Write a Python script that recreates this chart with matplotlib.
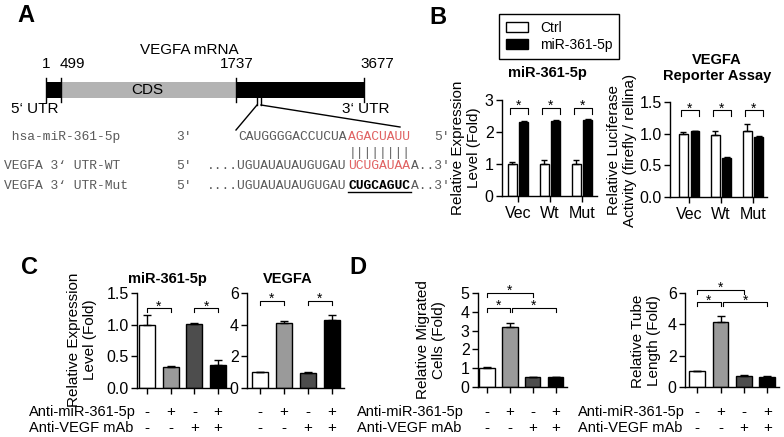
import numpy as np
import matplotlib
matplotlib.use('Agg')
import matplotlib.pyplot as plt
from matplotlib.patches import Rectangle
from matplotlib import transforms

plt.rcParams['font.family'] = ['Liberation Sans', 'DejaVu Sans']
plt.rcParams['font.size'] = 10.5
plt.rcParams['axes.linewidth'] = 1.0

W, H = 784, 437

# ---- panel A: VEGFA mRNA map and seed match ----
mrna_marks = ['1', '499', '1737', '3677']
mirna_label = ' hsa-miR-361-5p'
mirna_seq = ['CAUGGGGACCUCUA', 'AGACUAUU']
wt_label = 'VEGFA 3\u2018 UTR-WT'
wt_seq = ['....UGUAUAUAUGUGAU', 'UCUGAUAA', "A..3'"]
mut_label = 'VEGFA 3\u2018 UTR-Mut'
mut_seq = ['....UGUAUAUAUGUGAU', 'CUGCAGUC', "A..3'"]

# ---- panel B ----
b_groups = ['Vec', 'Wt', 'Mut']
b_series = ['Ctrl', 'miR-361-5p']
b_expr_ctrl = [1.0, 1.0, 1.0]
b_expr_ctrl_err = [0.05, 0.12, 0.13]
b_expr_mir = [2.32, 2.33, 2.36]
b_expr_mir_err = [0.02, 0.06, 0.05]
b_luc_ctrl = [1.0, 0.98, 1.05]
b_luc_ctrl_err = [0.02, 0.06, 0.10]
b_luc_mir = [1.04, 0.62, 0.95]
b_luc_mir_err = [0.01, 0.01, 0.01]

# ---- panels C / D: four treatment conditions ----
anti_mir = ['-', '+', '-', '+']
anti_vegf = ['-', '-', '+', '+']
c_mir = [1.0, 0.33, 1.01, 0.36]
c_mir_err = [0.15, 0.01, 0.02, 0.08]
c_vegfa = [1.0, 4.12, 0.95, 4.28]
c_vegfa_err = [0.04, 0.12, 0.05, 0.35]
d_migr = [1.0, 3.2, 0.52, 0.52]
d_migr_err = [0.08, 0.22, 0.03, 0.02]
d_tube = [1.0, 4.18, 0.72, 0.62]
d_tube_err = [0.05, 0.35, 0.04, 0.10]
# significance brackets: (bar from, bar to, height)
c_mir_sig = [(0, 1, 1.26), (2, 3, 1.26)]
c_vegfa_sig = [(0, 1, 5.5), (2, 3, 5.5)]
d_migr_sig = [(0, 1, 4.2), (1.1, 3, 4.2), (0, 2, 5.0)]
d_tube_sig = [(0, 1, 5.4), (1.1, 3, 5.4), (0, 2, 6.2)]

bar_colors = ['white', '#9a9a9a', '#4d4d4d', 'black']
red = '#e06161'
seq_gray = '#5a5a5a'


def px_axes(fig, x0, y0, x1, y1):
    # axes placed by pixel box (top-left origin)
    return fig.add_axes([x0 / W, 1 - y1 / H, (x1 - x0) / W, (y1 - y0) / H])


def style_axes(ax):
    for s in ['top', 'right']:
        ax.spines[s].set_visible(False)
    ax.tick_params(direction='out', length=4, width=1, labelsize=11.5, pad=2)


def bracket(ax, x1, x2, y, leg):
    ax.plot([x1, x1, x2, x2], [y - leg, y, y, y - leg], color='black',
            lw=0.8, clip_on=False)
    ax.annotate('*', ((x1 + x2) / 2, y), xytext=(0, -1.5),
                textcoords='offset points', ha='center', va='baseline',
                fontsize=10, annotation_clip=False)


def ylabel_px(fig, x, y, text):
    fig.text(x / W, 1 - y / H, text, rotation=90, ha='center', va='center',
             fontsize=11, linespacing=1.1, multialignment='center')


def title_px(fig, x, y, text):
    fig.text(x / W, 1 - y / H, text, ha='center', va='center',
             fontsize=10.5, fontweight='bold', linespacing=1.1)


fig = plt.figure(figsize=(W / 100, H / 100), dpi=100)

# panel letters
for letter, (lx, ly) in zip('ABCD', [(26, 15), (438, 17), (29, 267), (358, 267)]):
    fig.text(lx / W, 1 - ly / H, letter, fontsize=17, fontweight='bold',
             ha='center', va='center')

# ================= A =================
axa = px_axes(fig, 0, 0, 460, 230)
axa.set_xlim(0, 460)
axa.set_ylim(230, 0)
axa.axis('off')

seg_edges = [46, 61, 236, 364]
seg_cols = ['black', '#b3b3b3', 'black']
for i in range(3):
    axa.add_patch(Rectangle((seg_edges[i], 82), seg_edges[i + 1] - seg_edges[i], 16,
                            facecolor=seg_cols[i], edgecolor='none'))
for xe in seg_edges:
    axa.plot([xe, xe], [78, 102], color='black', lw=1)
for lab, xl, ha in zip(mrna_marks, [46, 60, 237, 360], ['center', 'left', 'center', 'left']):
    axa.text(xl, 64, lab, ha=ha, va='center', fontsize=11)
axa.text(189, 50, 'VEGFA mRNA', ha='center', va='center', fontsize=11)
axa.text(147, 90, 'CDS', ha='center', va='center', fontsize=11)
axa.text(35, 109, '5\u2018 UTR', ha='center', va='center', fontsize=11)
axa.text(366, 109, '3\u2018 UTR', ha='center', va='center', fontsize=11)
axa.plot([257, 257], [98, 105], color='black', lw=1)
axa.plot([261, 261], [98, 105], color='black', lw=1)
axa.plot([257, 236], [105, 130], color='black', lw=1)
axa.plot([261, 400], [105, 127], color='black', lw=1)

mono = 'Liberation Mono'
ms = 9.4
cw = ms * 0.6 * 100 / 72
x0 = 3.5


def seq(col, y, s, color=seq_gray, weight='normal'):
    axa.text(x0 + col * cw, y, s, family=mono, fontsize=ms, color=color,
             fontweight=weight, ha='left', va='center')


y1, yp, y2, y3 = 137, 153, 166, 186
seq(0, y1, mirna_label)
seq(22, y1, "3'")
seq(30, y1, mirna_seq[0])
seq(44, y1, mirna_seq[1], color=red)
seq(55, y1, "5'")
seq(44, yp, '|' * len(mirna_seq[1]))
seq(0, y2, wt_label)
seq(22, y2, "5'")
seq(26, y2, wt_seq[0])
seq(44, y2, wt_seq[1], color=red)
seq(52, y2, wt_seq[2])
seq(0, y3, mut_label)
seq(22, y3, "5'")
seq(26, y3, mut_seq[0])
seq(44, y3, mut_seq[1], color='black', weight='bold')
seq(52, y3, mut_seq[2])
axa.plot([x0 + 44 * cw, x0 + 52 * cw], [y3 + 6, y3 + 6], color='black', lw=1)

# ================= B =================
def group_panel(box, xlim, ymax, yticks, ctrl, ctrl_err, mir, mir_err, sig_y, leg):
    ax = px_axes(fig, *box)
    x = np.arange(len(b_groups))
    off, bw = 0.18, 0.27
    hc = ax.bar(x - off, ctrl, bw, color='white', edgecolor='black', lw=1, zorder=2)
    hm = ax.bar(x + off, mir, bw, color='black', edgecolor='black', lw=1, zorder=2)
    ax.errorbar(x - off, ctrl, yerr=[np.zeros(3), ctrl_err], fmt='none',
                ecolor='black', elinewidth=1, capsize=2.5, capthick=1, zorder=3)
    ax.errorbar(x + off, mir, yerr=[np.zeros(3), mir_err], fmt='none',
                ecolor='black', elinewidth=1, capsize=2.5, capthick=1, zorder=3)
    ax.set_xlim(*xlim)
    ax.set_ylim(0, ymax)
    ax.set_yticks(yticks)
    ax.set_xticks(x)
    ax.set_xticklabels(b_groups)
    style_axes(ax)
    ax.tick_params(axis='x', pad=3)
    for xi in x:
        bracket(ax, xi - 0.25, xi + 0.3, sig_y, leg)
    return ax, hc, hm


axb1, hc, hm = group_panel((502, 100, 597, 196), (-0.5, 2.47), 3, [0, 1, 2, 3],
                           b_expr_ctrl, b_expr_ctrl_err, b_expr_mir, b_expr_mir_err,
                           2.75, 0.2)
axb2, _, _ = group_panel((670, 102, 767, 197), (-0.6, 2.44), 1.5, [0.0, 0.5, 1.0, 1.5],
                         b_luc_ctrl, b_luc_ctrl_err, b_luc_mir, b_luc_mir_err,
                         1.37, 0.09)
axb2.yaxis.set_major_formatter(matplotlib.ticker.FormatStrFormatter('%.1f'))

axb1.legend([hc, hm], b_series, loc='upper left', bbox_to_anchor=(499 / W, 1 - 14 / H),
            bbox_transform=fig.transFigure, borderaxespad=0, fancybox=False,
            edgecolor='black', framealpha=1, fontsize=10, handlelength=1.6,
            handleheight=0.75, borderpad=0.5, labelspacing=0.2, handletextpad=0.85)
axb1.get_legend().get_frame().set_linewidth(1)

title_px(fig, 547, 73, 'miR-361-5p')
title_px(fig, 717, 68, 'VEGFA\nReporter Assay')
ylabel_px(fig, 466, 148, 'Relative Expression\nLevel (Fold)')
ylabel_px(fig, 622, 150, 'Relative Luciferase\nActivity (firefly / rellina)')

# ================= C / D =================
def cond_panel(box, x_left, ymax, yticks, vals, errs, sigs, leg, fmt=None):
    ax = px_axes(fig, *box)
    x = np.arange(len(vals))
    ax.bar(x, vals, width=0.68, color=bar_colors, edgecolor='black', lw=1, zorder=2)
    ax.errorbar(x, vals, yerr=[np.zeros(len(vals)), errs], fmt='none', ecolor='black',
                elinewidth=1, capsize=3, capthick=1, zorder=3)
    ax.set_xlim(x_left, 3.5)
    ax.set_ylim(0, ymax)
    ax.set_yticks(yticks)
    if fmt:
        ax.yaxis.set_major_formatter(matplotlib.ticker.FormatStrFormatter(fmt))
    ax.set_xticks(x)
    ax.set_xticklabels([])
    style_axes(ax)
    for a, b, h in sigs:
        bracket(ax, a, b, h, leg)
    tr = transforms.blended_transform_factory(ax.transData, fig.transFigure)
    for xi, s1, s2 in zip(x, anti_mir, anti_vegf):
        ax.text(xi, 1 - 412 / H, s1, transform=tr, ha='center', va='center', fontsize=11)
        ax.text(xi, 1 - 428 / H, s2, transform=tr, ha='center', va='center', fontsize=11)
    return ax


cond_panel((137, 293, 230, 388), -0.42, 1.5, [0.0, 0.5, 1.0, 1.5], c_mir, c_mir_err,
           c_mir_sig, 0.06, fmt='%.1f')
cond_panel((247, 293, 344, 388), -0.54, 6, [0, 2, 4, 6], c_vegfa, c_vegfa_err,
           c_vegfa_sig, 0.25)
cond_panel((478, 293, 567, 387), -0.39, 5, [0, 1, 2, 3, 4, 5], d_migr, d_migr_err,
           d_migr_sig, 0.2)
cond_panel((685, 293, 779, 387), -0.52, 6, [0, 2, 4, 6], d_tube, d_tube_err,
           d_tube_sig, 0.25)

title_px(fig, 167, 279, 'miR-361-5p')
title_px(fig, 288, 279, 'VEGFA')
ylabel_px(fig, 82, 340, 'Relative Expression\nLevel (Fold)')
ylabel_px(fig, 431, 340, 'Relative Migrated\nCells (Fold)')
ylabel_px(fig, 646, 341, 'Relative Tube\nLength (Fold)')

for lx in [29, 357, 578]:
    fig.text(lx / W, 1 - 412 / H, 'Anti-miR-361-5p', ha='left', va='center', fontsize=10.5)
    fig.text(lx / W, 1 - 428 / H, 'Anti-VEGF mAb', ha='left', va='center', fontsize=10.5)

fig.savefig('out.png', dpi=100)
